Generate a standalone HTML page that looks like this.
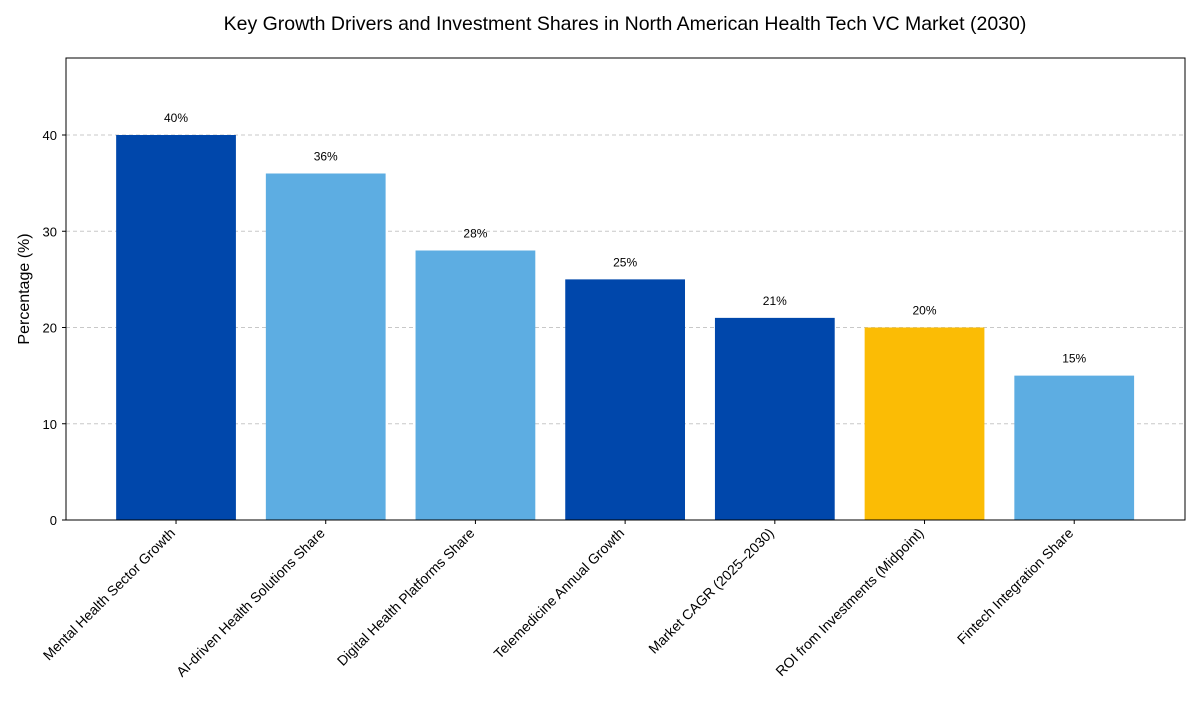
<!DOCTYPE html>
<html><head><meta charset="utf-8">
<style>
body{margin:0;background:#fff;font-family:"Liberation Sans",sans-serif;}
svg text{font-family:"Liberation Sans",sans-serif;fill:#000;}
</style></head>
<body>
<svg id="chart" width="1200" height="700" xmlns="http://www.w3.org/2000/svg">
<text x="625" y="30" text-anchor="middle" font-size="19.5">Key Growth Drivers and Investment Shares in North American Health Tech VC Market (2030)</text>
<g id="grid"></g>
<g id="bars"></g>
<rect x="66" y="58" width="1119" height="462" fill="none" stroke="#000" stroke-width="1"/>
<g id="axes"></g>
<text transform="translate(29,289) rotate(-90)" text-anchor="middle" font-size="16">Percentage (%)</text>
</svg>
<script>
const categories=["Mental Health Sector Growth","AI-driven Health Solutions Share","Digital Health Platforms Share","Telemedicine Annual Growth","Market CAGR (2025–2030)","ROI from Investments (Midpoint)","Fintech Integration Share"];
const values=[40,36,28,25,21,20,15];
const colors=["#0047AB","#5DADE2","#5DADE2","#0047AB","#0047AB","#FBBC05","#5DADE2"];
const yTicks=[0,10,20,30,40];
const L=66,R=1185,T=58,B=520;
const yMax=48;
const x0=-0.735,x1=6.74;
const sx=v=>L+(v-x0)/(x1-x0)*(R-L);
const sy=v=>B-v/yMax*(B-T);
const NS="http://www.w3.org/2000/svg";
function mk(t,a,p){const e=document.createElementNS(NS,t);for(const k in a)e.setAttribute(k,a[k]);p.appendChild(e);return e;}
const grid=document.getElementById('grid'),bars=document.getElementById('bars'),axes=document.getElementById('axes');
yTicks.forEach(t=>{
  if(t>0){const g=mk('line',{x1:L,x2:R,y1:sy(t),y2:sy(t),stroke:'#c8c8c8','stroke-dasharray':'4,3','stroke-width':1},grid);
  
  }
  const tk=mk('line',{x1:L-4,x2:L,y1:sy(t),y2:sy(t),stroke:'#000'},axes);
  
  
  const lb=mk('text',{x:L-9,y:sy(t)+5,'text-anchor':'end','font-size':13},axes);
  lb.textContent=t;
  
  
});
categories.forEach((c,i)=>{
  const cx=sx(i),w=sx(0.4)-sx(-0.4);
  const r=mk('rect',{x:cx-w/2,y:sy(values[i]),width:w,height:B-sy(values[i]),fill:colors[i]},bars);
  
  
  const v=mk('text',{x:cx,y:sy(values[i])-13,'text-anchor':'middle','font-size':12},bars);
  v.textContent=values[i]+'%';
  
  
  const tk=mk('line',{x1:cx,x2:cx,y1:B,y2:B+4,stroke:'#000'},axes);
  
  
  const lb=mk('text',{transform:`translate(${cx},${B+14}) rotate(-45)`,'text-anchor':'end','font-size':14},axes);
  lb.textContent=c;
  
  
});
</script>
</body></html>
